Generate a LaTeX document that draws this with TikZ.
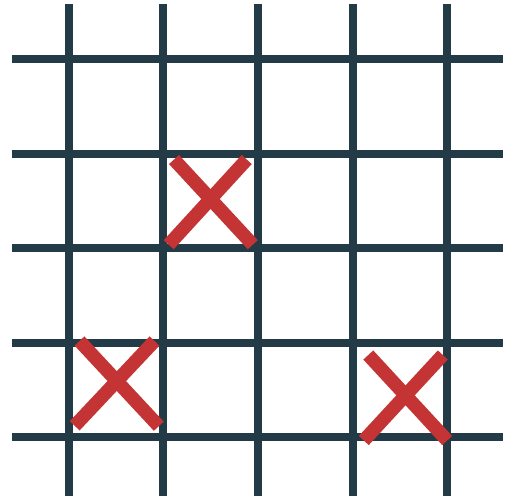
\documentclass[tikz,border=0pt]{standalone}
\definecolor{gridc}{RGB}{35,58,71}
\definecolor{crossc}{RGB}{196,52,52}
\begin{document}
\begin{tikzpicture}[x=1pt,y=-1pt,
  gridline/.style={draw=gridc,line width=8pt},
  crossline/.style={draw=crossc,line width=13.5pt}]
\useasboundingbox[fill=white] (0,0) rectangle (509,501);
\foreach \x in {68.7,163.3,257.9,352.5,447.1}
  \draw[gridline] (\x,4) -- (\x,495.7);
\foreach \y in {59,153.5,248,342.5,437}
  \draw[gridline] (12,\y) -- (503,\y);
% crosses: top-left, top-right, bottom-left, bottom-right arm ends
\draw[crossline] (174,159.5) -- (252.8,244.7);
\draw[crossline] (246.7,159.5) -- (168.7,244.7);
\draw[crossline] (79.5,341) -- (158.8,426.2);
\draw[crossline] (154.5,341) -- (74.7,425.8);
\draw[crossline] (368.3,355) -- (447.2,440.5);
\draw[crossline] (442.8,355) -- (363.8,440.5);
\end{tikzpicture}
\end{document}
